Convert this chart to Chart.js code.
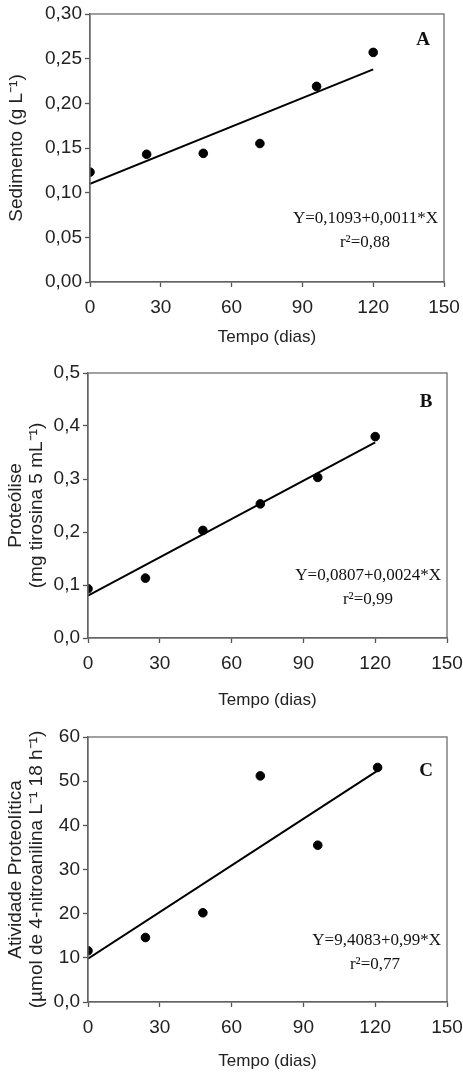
<!DOCTYPE html>
<html>
<head>
<meta charset="utf-8">
<script src="https://cdn.jsdelivr.net/npm/chart.js@4"></script>
<style>
  html, body { margin: 0; padding: 0; background: #fff; }
  .painel { position: absolute; left: 0; width: 463px; }
</style>
</head>
<body>
<div class="painel" style="top:0;height:357px"><canvas id="graficoA"></canvas></div>
<div class="painel" style="top:357px;height:363px"><canvas id="graficoB"></canvas></div>
<div class="painel" style="top:720px;height:352px"><canvas id="graficoC"></canvas></div>
<script>
// Tempo de coleta (dias)
const tempo = [0, 24, 48, 72, 96, 120];
const ticksTempo = [0, 30, 60, 90, 120, 150];

// A - Sedimento (g L-1)
const sedimento = [0.123, 0.143, 0.144, 0.155, 0.219, 0.257];
const retaSedimento = [0.110, 0.238];
const ticksSedimento = [0, 0.05, 0.10, 0.15, 0.20, 0.25, 0.30];

// B - Proteolise (mg tirosina 5 mL-1)
const proteolise = [0.093, 0.113, 0.203, 0.253, 0.303, 0.380];
const retaProteolise = [0.080, 0.369];
const ticksProteolise = [0, 0.1, 0.2, 0.3, 0.4, 0.5];

// C - Atividade proteolitica
const atividade = [11.6, 14.6, 20.2, 51.2, 35.5, 53.1];
const tempoAtividade = [0, 24, 48, 72, 96, 121];
const retaAtividade = [9.8, 52.4];
const ticksAtividade = [0, 10, 20, 30, 40, 50, 60];

const fonteEixo = "'Liberation Sans', Arial, sans-serif";
const fonteTexto = "'Liberation Serif', 'Times New Roman', serif";

// moldura cinza e textos da regressao
const moldura = {
    id: 'moldura',
    afterDraw(chart, args, opts) {
        const c = chart.ctx, a = chart.chartArea;
        c.save();
        c.strokeStyle = '#6e6e6e';
        c.lineWidth = 1.3;
        c.strokeRect(a.left, a.top, a.right - a.left, a.bottom - a.top);
        c.fillStyle = '#111';
        c.font = 'bold 19px ' + fonteTexto;
        c.textAlign = 'center';
        c.textBaseline = 'middle';
        c.fillText(opts.letra, a.right - 21, a.top + opts.letraY);
        c.font = '17px ' + fonteTexto;
        c.textAlign = 'right';
        c.fillText(opts.equacao, a.right - 6, a.top + opts.eqY);
        c.textAlign = 'center';
        c.fillText(opts.r2, a.right - opts.r2X, a.top + opts.eqY + 24);
        c.restore();
    }
};

function montarGrafico(id, cfg) {
    const ctx = document.getElementById(id).getContext('2d');
    return new Chart(ctx, {
        type: 'scatter',
        data: {
            datasets: [{
                data: cfg.x.map((v, i) => ({ x: v, y: cfg.y[i] })),
                backgroundColor: '#000',
                borderColor: '#000',
                pointRadius: 4.3,
                pointHoverRadius: 4.3
            }, {
                type: 'line',
                data: [{ x: 0, y: cfg.reta[0] }, { x: cfg.xFim, y: cfg.reta[1] }],
                borderColor: '#000',
                borderWidth: 2,
                pointRadius: 0,
                fill: false
            }]
        },
        options: {
            responsive: true,
            maintainAspectRatio: false,
            animation: false,
            layout: { padding: { top: cfg.topo, right: cfg.direita, left: 0, bottom: 0 } },
            plugins: {
                legend: { display: false },
                tooltip: { enabled: false },
                moldura: cfg.textos
            },
            scales: {
                x: {
                    type: 'linear',
                    min: 0, max: 150,
                    afterBuildTicks: s => { s.ticks = ticksTempo.map(v => ({ value: v })); },
                    afterFit: s => { s.height = cfg.alturaX; s.paddingLeft = 0; s.paddingRight = 0; },
                    grid: { display: true, drawOnChartArea: false, drawTicks: true, tickLength: 5, tickColor: '#555', tickWidth: 1.3 },
                    border: { display: true, color: '#555', width: 1.3 },
                    ticks: { color: '#222', font: { family: fonteEixo, size: 19 }, padding: 9, maxRotation: 0 },
                    title: { display: true, text: 'Tempo (dias)', color: '#222', font: { family: fonteEixo, size: 17 }, padding: { top: 0, bottom: cfg.padTitX } }
                },
                y: {
                    type: 'linear',
                    min: cfg.ticksY[0], max: cfg.ticksY[cfg.ticksY.length - 1],
                    afterBuildTicks: s => { s.ticks = cfg.ticksY.map(v => ({ value: v })); },
                    afterFit: s => { s.width = cfg.larguraY; s.paddingTop = 0; s.paddingBottom = 0; },
                    grid: { display: true, drawOnChartArea: false, drawTicks: true, tickLength: 5, tickColor: '#555', tickWidth: 1.3 },
                    border: { display: true, color: '#555', width: 1.3 },
                    ticks: { color: '#222', font: { family: fonteEixo, size: 19 }, padding: 3, callback: cfg.rotuloY },
                    title: { display: true, text: cfg.tituloY, color: '#222', font: { family: fonteEixo, size: 19, lineHeight: 1.1 }, padding: { top: cfg.padTitY, bottom: 0 } }
                }
            }
        },
        plugins: [moldura]
    });
}

montarGrafico('graficoA', {
    x: tempo, y: sedimento, reta: retaSedimento, xFim: 120,
    ticksY: ticksSedimento,
    rotuloY: v => v.toFixed(2).replace('.', ','),
    tituloY: 'Sedimento (g L⁻¹)',
    topo: 14, direita: 19, alturaX: 75, larguraY: 90, padTitX: 9, padTitY: 6,
    textos: { letra: 'A', letraY: 26, equacao: 'Y=0,1093+0,0011*X', eqY: 205, r2: 'r²=0,88', r2X: 79 }
});

montarGrafico('graficoB', {
    x: tempo, y: proteolise, reta: retaProteolise, xFim: 120,
    ticksY: ticksProteolise,
    rotuloY: v => v.toFixed(1).replace('.', ','),
    tituloY: ['Proteólise', '(mg tirosina 5 mL⁻¹)'],
    topo: 16, direita: 16, alturaX: 82, larguraY: 88, padTitX: 9, padTitY: 5,
    textos: { letra: 'B', letraY: 29, equacao: 'Y=0,0807+0,0024*X', eqY: 203, r2: 'r²=0,99', r2X: 79 }
});

montarGrafico('graficoC', {
    x: tempoAtividade, y: atividade, reta: retaAtividade, xFim: 121,
    ticksY: ticksAtividade,
    rotuloY: v => v === 0 ? '0,0' : String(v),
    tituloY: ['Atividade Proteolítica', '(µmol de 4-nitroanilina L⁻¹ 18 h⁻¹)'],
    topo: 17, direita: 16, alturaX: 70, larguraY: 88, padTitX: 0, padTitY: 5,
    textos: { letra: 'C', letraY: 34, equacao: 'Y=9,4083+0,99*X', eqY: 204, r2: 'r²=0,77', r2X: 72 }
});
</script>
</body>
</html>
